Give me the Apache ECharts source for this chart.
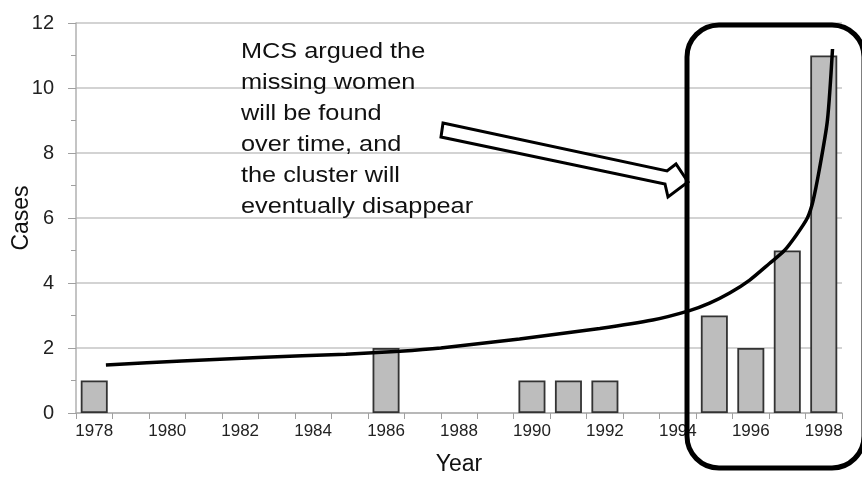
<!DOCTYPE html>
<html>
<head>
<meta charset="utf-8">
<script src="https://cdn.jsdelivr.net/npm/echarts@6/dist/echarts.min.js"></script>
<style>
  html, body { margin: 0; padding: 0; background: #fff; }
  #chart { width: 862px; height: 484px; }
</style>
</head>
<body>
<div id="chart"></div>
<script>
// 年份类目
var years = [];
for (var y = 1978; y <= 1998; y++) years.push(String(y));

// 每年的病例数（'-' 表示没有柱子）
var cases = [1, '-', '-', '-', '-', '-', '-', '-', 2, '-', '-', '-', 1, 1, 1, '-', '-', 3, 2, 5, 11];

// 趋势曲线上读出的点 [年份, 数值]
var trendPoints = [
    [1978.32, 1.48], [1980.4, 1.6], [1982.5, 1.71], [1984.9, 1.81], [1986.38, 1.9],
    [1987.5, 2.0], [1989.66, 2.28], [1991.86, 2.6], [1993.31, 2.86], [1994.32, 3.15],
    [1994.87, 3.38], [1995.42, 3.69], [1995.97, 4.09], [1996.51, 4.6], [1996.92, 5.0],
    [1997.25, 5.48], [1997.55, 6.0], [1997.7, 6.5], [1997.88, 7.5], [1998.1, 9.0],
    [1998.24, 11.2]
];

// 注释文字
var noteText = 'MCS argued the\nmissing women\nwill be found\nover time, and\nthe cluster will\neventually disappear';

var chart = echarts.init(document.getElementById('chart'));

var option = {
    backgroundColor: '#fff',
    animation: false,
    grid: { left: 76, right: 20, top: 23, bottom: 71, outerBoundsMode: 'none' },
    xAxis: [{
        type: 'category',
        data: years,
        name: 'Year',
        nameLocation: 'middle',
        nameGap: 40,
        nameTextStyle: { fontFamily: 'Liberation Sans', fontSize: 23, color: '#111' },
        axisLine: { lineStyle: { color: '#b0b0b0', width: 1.5 } },
        axisTick: { show: true, interval: 0, length: 6, lineStyle: { color: '#a0a0a0' } },
        axisLabel: { interval: 1, fontFamily: 'Liberation Sans', fontSize: 17, color: '#222', margin: 10 },
        splitLine: { show: false }
    }, {
        type: 'value',
        min: 1977.5,
        max: 1998.5,
        show: false
    }],
    yAxis: {
        type: 'value',
        min: 0,
        max: 12,
        interval: 2,
        name: 'Cases',
        nameLocation: 'middle',
        nameGap: 43,
        nameMoveOverlap: false,
        nameTextStyle: { fontFamily: 'Liberation Sans', fontSize: 23, color: '#111' },
        axisLine: { show: true, lineStyle: { color: '#b0b0b0', width: 1.5 } },
        axisTick: { show: true, length: 8, lineStyle: { color: '#a0a0a0' } },
        minorTick: { show: true, splitNumber: 2, length: 5, lineStyle: { color: '#a0a0a0' } },
        axisLabel: { fontFamily: 'Liberation Sans', fontSize: 20, color: '#222', margin: 22 },
        splitLine: { lineStyle: { color: '#c4c4c4', width: 1.5 } }
    },
    series: [{
        name: 'Cases',
        type: 'bar',
        data: cases,
        barCategoryGap: '26%',
        itemStyle: { color: '#bdbdbd', borderColor: '#333', borderWidth: 1.8 }
    }, {
        name: 'Trend',
        type: 'line',
        xAxisIndex: 1,
        data: trendPoints,
        smooth: 0.25,
        symbol: 'none',
        lineStyle: { color: '#000', width: 3.5 },
        z: 5
    }],
    graphic: [{
        type: 'text',
        left: 241,
        top: 36,
        scaleX: 1.15,
        style: {
            text: noteText,
            fontFamily: 'Liberation Sans',
            fontSize: 22,
            lineHeight: 31,
            fill: '#111'
        },
        z: 10
    }, {
        // 空心箭头
        type: 'polygon',
        shape: {
            points: [[443, 123], [667, 171], [676, 164], [688, 182], [668, 197], [665, 184], [441, 137]]
        },
        style: { fill: '#fff', stroke: '#000', lineWidth: 3 },
        z: 10
    }, {
        // 圆角框
        type: 'rect',
        shape: { x: 687, y: 25, width: 177, height: 443, r: 32 },
        style: { fill: 'none', stroke: '#000', lineWidth: 5 },
        z: 10
    }]
};

chart.setOption(option);
</script>
</body>
</html>
